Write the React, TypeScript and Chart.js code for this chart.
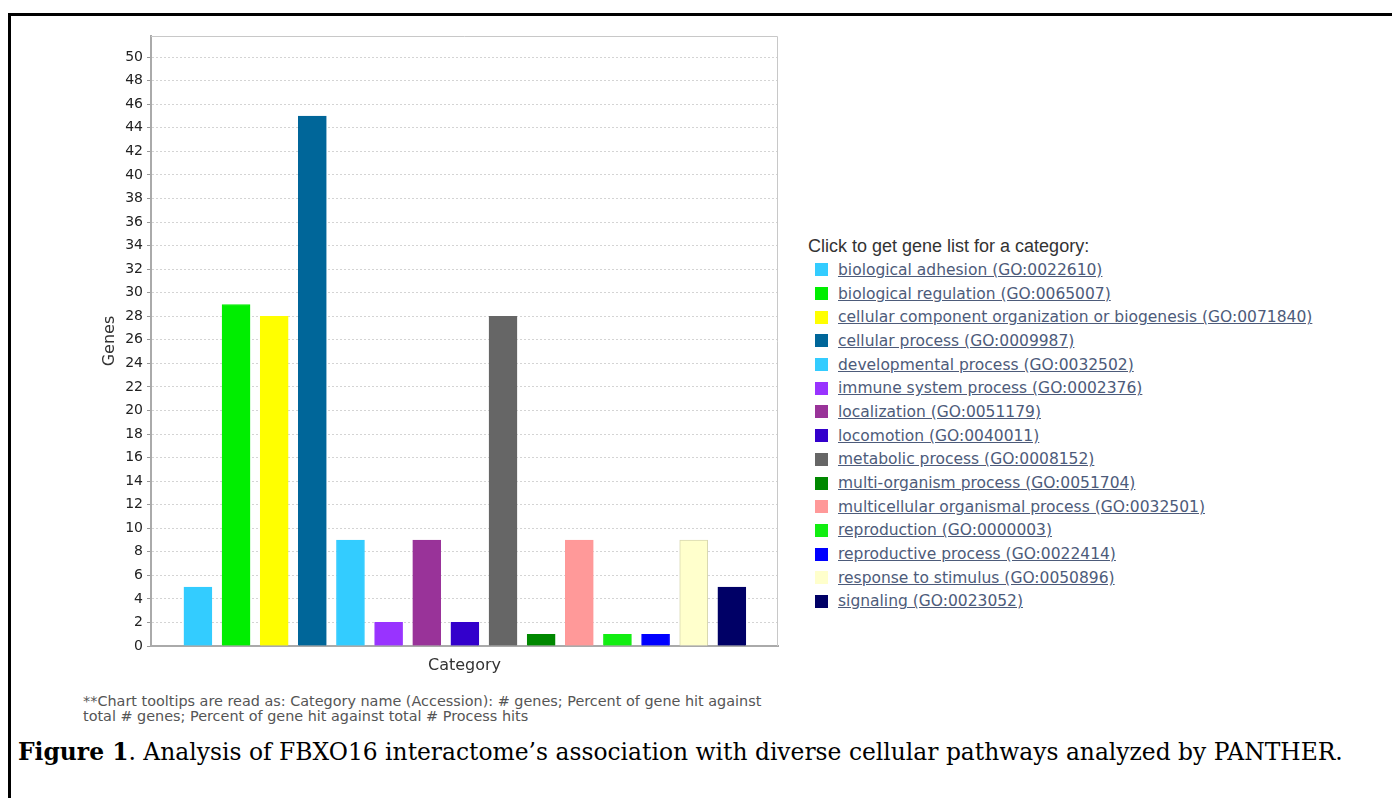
import React, { useEffect, useRef } from "react";
import { Chart, registerables } from "chart.js";

Chart.register(...registerables);

const categories: string[] = [
  "biological adhesion (GO:0022610)",
  "biological regulation (GO:0065007)",
  "cellular component organization or biogenesis (GO:0071840)",
  "cellular process (GO:0009987)",
  "developmental process (GO:0032502)",
  "immune system process (GO:0002376)",
  "localization (GO:0051179)",
  "locomotion (GO:0040011)",
  "metabolic process (GO:0008152)",
  "multi-organism process (GO:0051704)",
  "multicellular organismal process (GO:0032501)",
  "reproduction (GO:0000003)",
  "reproductive process (GO:0022414)",
  "response to stimulus (GO:0050896)",
  "signaling (GO:0023052)",
];

const geneCounts: number[] = [5, 29, 28, 45, 9, 2, 9, 2, 28, 1, 9, 1, 1, 9, 5];

const barColors: string[] = [
  "#33ccff",
  "#00ee00",
  "#ffff00",
  "#006699",
  "#33ccff",
  "#9933ff",
  "#993399",
  "#3300cc",
  "#666666",
  "#008800",
  "#ff9999",
  "#11ee11",
  "#0000ff",
  "#ffffcc",
  "#000066",
];

const barBorders: string[] = [
  "#33ccff",
  "#00ee00",
  "#ffff00",
  "#006699",
  "#33ccff",
  "#9933ff",
  "#993399",
  "#3300cc",
  "#666666",
  "#008800",
  "#ff9999",
  "#11ee11",
  "#0000ff",
  "#d8d8b0",
  "#000066",
];

const yTicks: number[] = [0, 2, 4, 6, 8, 10, 12, 14, 16, 18, 20, 22, 24, 26, 28, 30, 32, 34, 36, 38, 40, 42, 44, 46, 48, 50];

const legendTitle = "Click to get gene list for a category:";
const footnoteLines: string[] = [
  "**Chart tooltips are read as: Category name (Accession): # genes; Percent of gene hit against",
  "total # genes; Percent of gene hit against total # Process hits",
];
const captionBold = "Figure 1";
const captionRest = ". Analysis of FBXO16 interactome\u2019s association with diverse cellular pathways analyzed by PANTHER.";

const plotFrame = {
  id: "plotFrame",
  beforeDatasetsDraw(chart: any) {
    const { ctx, chartArea } = chart;
    ctx.save();
    ctx.strokeStyle = "#c8c8c8";
    ctx.lineWidth = 1;
    ctx.beginPath();
    ctx.moveTo(chartArea.left, chartArea.top + 0.5);
    ctx.lineTo(chartArea.right - 0.5, chartArea.top + 0.5);
    ctx.lineTo(chartArea.right - 0.5, chartArea.bottom);
    ctx.stroke();
    ctx.restore();
  },
};

function BarChart() {
  const ref = useRef<HTMLCanvasElement | null>(null);
  useEffect(() => {
    if (!ref.current) return;
    const chart = new Chart(ref.current, {
      type: "bar",
      data: {
        datasets: [
          {
            label: "Genes",
            data: geneCounts.map((v, i) => ({ x: i, y: v })),
            backgroundColor: barColors,
            borderColor: barBorders,
            borderWidth: 1,
            barThickness: 28,
          } as any,
        ],
      },
      options: {
        animation: false,
        responsive: false,
        maintainAspectRatio: false,
        layout: { padding: { top: 16, right: 22, left: 0, bottom: 4 } },
        plugins: {
          legend: { display: false },
          tooltip: {
            callbacks: {
              title: (items: any[]) => categories[items[0].dataIndex],
            },
          },
        },
        scales: {
          x: {
            type: "linear",
            offset: false,
            min: -1.23,
            max: 15.21,
            grid: { display: false, drawTicks: false, offset: false },
            ticks: { display: false },
            border: { display: true, color: "#aaaaaa", width: 2 },
            title: {
              display: true,
              text: "Category",
              color: "#333333",
              font: { family: "DejaVu Sans", size: 16 },
              padding: { top: 0, bottom: 11 },
            },
            afterFit: (s: any) => {
              s.height = 40;
            },
          },
          y: {
            min: 0,
            max: 51.8,
            afterBuildTicks: (s: any) => {
              s.ticks = yTicks.map((v) => ({ value: v }));
            },
            grid: {
              color: "#d4d4d4",
              tickColor: "#999999",
              tickLength: 4,
              lineWidth: 1,
            },
            border: { display: true, color: "#aaaaaa", width: 2, dash: [2, 2] },
            ticks: {
              color: "#222222",
              padding: 4,
              font: { family: "DejaVu Sans", size: 14 },
            },
            title: {
              display: true,
              text: "Genes",
              color: "#333333",
              font: { family: "DejaVu Sans", size: 16 },
              padding: { top: 40, bottom: 0 },
            },
            afterFit: (s: any) => {
              s.width = 91;
            },
          },
        },
      } as any,
      plugins: [plotFrame],
    });
    return () => chart.destroy();
  }, []);
  return (
    <canvas
      ref={ref}
      width={740}
      height={670}
      style={{ position: "absolute", left: 60, top: 20, width: 740, height: 670 }}
    />
  );
}

export default function App() {
  return (
    <div
      style={{
        position: "fixed",
        left: 0,
        top: 0,
        width: 1392,
        height: 798,
        overflow: "hidden",
        background: "#ffffff",
      }}
    >
      <div
        style={{
          position: "absolute",
          left: 8,
          top: 13,
          width: 1420,
          height: 820,
          borderTop: "3px solid #000",
          borderLeft: "3px solid #000",
        }}
      />
      <BarChart />
      <div
        style={{
          position: "absolute",
          left: 808,
          top: 235,
          fontFamily: "'Liberation Sans', Arial, sans-serif",
          fontSize: 18,
          lineHeight: "22px",
          color: "#333333",
          whiteSpace: "nowrap",
        }}
      >
        {legendTitle}
      </div>
      <div style={{ position: "absolute", left: 815, top: 258, whiteSpace: "nowrap" }}>
        {categories.map((c, i) => (
          <div
            key={c}
            style={{ height: 23.7, display: "flex", alignItems: "center" }}
          >
            <span
              style={{
                display: "inline-block",
                width: 13,
                height: 13,
                background: barColors[i],
                marginRight: 10,
              }}
            />
            <span
              style={{
                fontFamily: "'DejaVu Sans', sans-serif",
                fontSize: 15.5,
                color: "#4d5b7a",
                textDecoration: "underline",
              }}
            >
              {c}
            </span>
          </div>
        ))}
      </div>
      <div
        style={{
          position: "absolute",
          left: 83,
          top: 694,
          fontFamily: "'DejaVu Sans', sans-serif",
          fontSize: 14.4,
          lineHeight: "15px",
          color: "#555555",
          whiteSpace: "nowrap",
        }}
      >
        {footnoteLines.map((l) => (
          <div key={l}>{l}</div>
        ))}
      </div>
      <div
        style={{
          position: "absolute",
          left: 18,
          top: 738,
          fontFamily: "'DejaVu Serif', Georgia, serif",
          fontSize: 23.4,
          lineHeight: "28px",
          color: "#000",
          whiteSpace: "nowrap",
        }}
      >
        <b>{captionBold}</b>
        {captionRest}
      </div>
    </div>
  );
}
